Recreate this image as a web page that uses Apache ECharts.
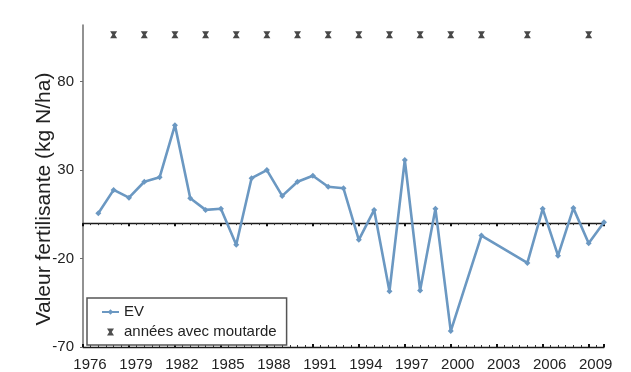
<!DOCTYPE html>
<html>
<head>
<meta charset="utf-8">
<script src="https://cdn.jsdelivr.net/npm/echarts@6/dist/echarts.min.js"></script>
<style>
  html, body { margin: 0; padding: 0; background: #fff; }
  #chart { width: 631px; height: 372px; }
</style>
</head>
<body>
<div id="chart"></div>
<script>
// Valeur fertilisante (EV) par année, kg N/ha
const years = [1977, 1978, 1979, 1980, 1981, 1982, 1983, 1984, 1985, 1986, 1987, 1988,
               1989, 1990, 1991, 1992, 1993, 1994, 1995, 1996, 1997, 1998, 1999, 2000,
               2002, 2005, 2006, 2007, 2008, 2009, 2010];
const evValues = [5.6, 18.8, 14.4, 23.4, 25.9, 55.4, 14.1, 7.5, 8.1, -12.2, 25.4, 30,
                  15.4, 23.4, 26.8, 20.6, 19.7, -9.4, 7.5, -38.5, 35.7, -38, 8.1, -61,
                  -7, -22.5, 8.1, -18.4, 8.5, -11.3, 0.5];

// Années avec moutarde (rangée de repères en haut du graphique)
const mustardYears = [1978, 1980, 1982, 1984, 1986, 1988, 1990, 1992, 1994, 1996,
                      1998, 2000, 2002, 2005, 2009];
const mustardLevel = 106.5;

// Graduations
const xTickLabels = [1976, 1979, 1982, 1985, 1988, 1991, 1994, 1997, 2000, 2003, 2006, 2009];
const yTickLabels = [-70, -20, 30, 80];

const FONT = '"Liberation Sans", Arial, sans-serif';
const TEXT = '#222';
const EV_COLOR = '#6b98c2';

const hourglass = 'path://M0,0 L10,0 L6.8,5 L10,10 L0,10 L3.2,5 Z';

const chart = echarts.init(document.getElementById('chart'), null, { renderer: 'canvas' });

const baseX = { type: 'value', min: 1976, max: 2010, interval: 3, splitLine: { show: false } };
const zeroLine = { show: true, onZero: true, lineStyle: { color: '#1a1a1a', width: 1.3 } };
const majorTick = { show: true, length: 3, lineStyle: { color: '#111', width: 2 } };
const minorTick = { show: true, splitNumber: 6, length: 2, lineStyle: { color: '#333', width: 1 } };

chart.setOption({
  animation: false,
  backgroundColor: '#fff',
  grid: { left: 83, right: 27, top: 25, bottom: 24 },
  xAxis: [
    // year labels along the bottom
    Object.assign({}, baseX, {
      position: 'bottom',
      axisLine: { show: false, onZero: false },
      axisTick: { show: false },
      axisLabel: {
        customValues: xTickLabels,
        formatter: v => String(v),
        fontFamily: FONT, fontSize: 15, color: TEXT, margin: 10,
        padding: [0, 0, 0, 14]
      }
    }),
    // zero line with ticks below it
    Object.assign({}, baseX, {
      position: 'bottom',
      axisLine: zeroLine,
      axisTick: Object.assign({ inside: false }, majorTick),
      minorTick: minorTick,
      axisLabel: { show: false }
    }),
    // same ticks mirrored above the zero line
    Object.assign({}, baseX, {
      position: 'bottom',
      axisLine: zeroLine,
      axisTick: Object.assign({ inside: true }, majorTick),
      minorTick: Object.assign({}, minorTick),
      axisLabel: { show: false }
    })
  ],
  yAxis: {
    type: 'value', min: -70, max: 112,
    name: 'Valeur fertilisante (kg N/ha)',
    nameLocation: 'middle', nameRotate: 90, nameGap: 28,
    nameMoveOverlap: false,
    nameTextStyle: { fontFamily: FONT, fontSize: 21, color: TEXT, padding: [0, 26, 0, 0] },
    axisLine: { show: true, onZero: false, lineStyle: { color: '#6e6e6e', width: 1.5 } },
    axisTick: { show: true, customValues: yTickLabels, length: 3, lineStyle: { color: '#6e6e6e' } },
    axisLabel: { customValues: yTickLabels, fontFamily: FONT, fontSize: 15, color: TEXT, margin: 9 },
    splitLine: { show: false }
  },
  legend: {
    orient: 'vertical',
    left: 87, top: 298,
    padding: [6, 10, 5, 14],
    itemGap: 4,
    itemWidth: 17, itemHeight: 7,
    borderColor: '#555', borderWidth: 1.5, borderRadius: 0,
    backgroundColor: '#fff',
    textStyle: { fontFamily: FONT, fontSize: 15, color: TEXT, lineHeight: 16 },
    data: [
      { name: 'EV' },
      { name: 'années avec moutarde', itemStyle: { color: '#222' } }
    ]
  },
  series: [
    {
      name: 'EV',
      type: 'line',
      data: years.map((y, i) => [y, evValues[i]]),
      symbol: 'diamond', symbolSize: 6,
      lineStyle: { color: EV_COLOR, width: 2.6 },
      itemStyle: { color: EV_COLOR },
      z: 3
    },
    {
      name: 'années avec moutarde',
      type: 'scatter',
      xAxisIndex: 0,
      data: mustardYears.map(y => [y, mustardLevel]),
      symbol: hourglass, symbolSize: [7, 7],
      itemStyle: { color: '#1a1a1a' }
    }
  ]
});
</script>
</body>
</html>
